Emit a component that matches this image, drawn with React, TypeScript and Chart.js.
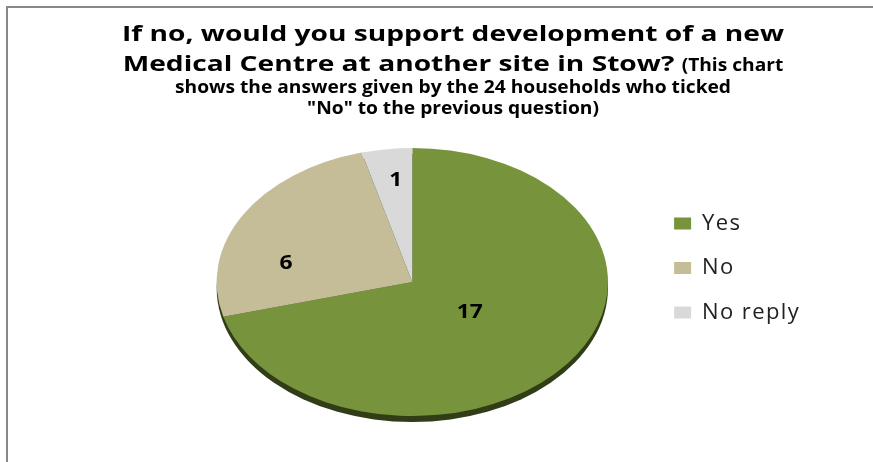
import React, { useEffect, useRef } from 'react';
import { Chart, registerables } from 'chart.js';

Chart.register(...registerables);

// ---- data ----
const categories = ['Yes', 'No', 'No reply'];
const answerCounts = [17, 6, 1];
const sliceColors = ['#77933C', '#C4BD97', '#D9D9D9'];

const titleBig1 = 'If no, would you support development of a new';
const titleBig2 = 'Medical Centre at another site in Stow? ';
const titleSmall2 = '(This chart';
const titleSmall3 = 'shows the answers given by the 24 households who ticked';
const titleSmall4 = '"No" to the previous question)';

// ---- style ----
const FONT = '"Open Sans", "Noto Sans", sans-serif';
const BIG_FONT = `bold 21px ${FONT}`;
const SMALL_FONT = `bold 17px ${FONT}`;
const TITLE_CENTER_X = 453;
const TITLE_LINE1_WIDTH = 662;
const TITLE_LINE3_WIDTH = 556;
const TITLE_BASELINES = [41, 71, 93, 114];
const PIE_STRETCH = 1.46;
const PIE_DEPTH = 6;
const SHADOW_COLOR = '#303D17';
const LABEL_RADIUS = [0.37, 0.66, 0.76];
const LABEL_ANGLE_OFFSET = [0, -0.31, 0.02];
const LEGEND_SHIFT = -14;
const LEGEND_EXTRA_WIDTH = 40;
const LEGEND_LETTER_SPACING = '1.4px';

let bigStretch = 1.2;
let smallStretch = 1.2;

type Seg = { t: string; f: string; s: () => number };

function drawSegments(ctx: CanvasRenderingContext2D, segs: Seg[], baseline: number) {
  let total = 0;
  const widths = segs.map((seg) => {
    ctx.font = seg.f;
    const w = ctx.measureText(seg.t).width * seg.s();
    total += w;
    return w;
  });
  let x = TITLE_CENTER_X - total / 2;
  segs.forEach((seg, i) => {
    ctx.save();
    ctx.font = seg.f;
    ctx.translate(x, baseline);
    ctx.scale(seg.s(), 1);
    ctx.fillText(seg.t, 0, 0);
    ctx.restore();
    x += widths[i];
  });
}

const frameAndTitle = {
  id: 'frameAndTitle',
  beforeDraw(chart: any) {
    const ctx = chart.ctx as CanvasRenderingContext2D;
    ctx.save();
    ctx.fillStyle = '#ffffff';
    ctx.fillRect(0, 0, chart.width, chart.height);
    ctx.strokeStyle = '#888888';
    ctx.lineWidth = 2;
    ctx.strokeRect(7, 7, chart.width + 20, chart.height + 20);
    ctx.restore();
    // wider letter spacing for the legend text, which is drawn next
    (ctx as any).letterSpacing = LEGEND_LETTER_SPACING;
  },
  afterDraw(chart: any) {
    const ctx = chart.ctx as CanvasRenderingContext2D;
    ctx.save();
    ctx.fillStyle = '#000000';
    ctx.textBaseline = 'alphabetic';
    ctx.textAlign = 'left';
    ctx.font = BIG_FONT;
    bigStretch = TITLE_LINE1_WIDTH / ctx.measureText(titleBig1).width;
    ctx.font = SMALL_FONT;
    smallStretch = TITLE_LINE3_WIDTH / ctx.measureText(titleSmall3).width;
    const big = () => bigStretch;
    const small = () => smallStretch;
    drawSegments(ctx, [{ t: titleBig1, f: BIG_FONT, s: big }], TITLE_BASELINES[0]);
    drawSegments(
      ctx,
      [
        { t: titleBig2, f: BIG_FONT, s: big },
        { t: titleSmall2, f: SMALL_FONT, s: small },
      ],
      TITLE_BASELINES[1]
    );
    drawSegments(ctx, [{ t: titleSmall3, f: SMALL_FONT, s: small }], TITLE_BASELINES[2]);
    drawSegments(ctx, [{ t: titleSmall4, f: SMALL_FONT, s: small }], TITLE_BASELINES[3]);
    ctx.restore();
  },
};

const pieTilt = {
  id: 'pieTilt',
  beforeDatasetsDraw(chart: any) {
    const ctx = chart.ctx as CanvasRenderingContext2D;
    (ctx as any).letterSpacing = '0px';
    const arc = chart.getDatasetMeta(0).data[0];
    const { x, y, outerRadius } = arc.getProps(['x', 'y', 'outerRadius'], true);
    ctx.save();
    ctx.fillStyle = SHADOW_COLOR;
    ctx.beginPath();
    ctx.ellipse(x, y + PIE_DEPTH, outerRadius * PIE_STRETCH, outerRadius, 0, 0, Math.PI * 2);
    ctx.fill();
    ctx.restore();
    ctx.save();
    ctx.translate(x, y);
    ctx.scale(PIE_STRETCH, 1);
    ctx.translate(-x, -y);
  },
  afterDatasetsDraw(chart: any) {
    const ctx = chart.ctx as CanvasRenderingContext2D;
    ctx.restore();
    const meta = chart.getDatasetMeta(0);
    ctx.save();
    ctx.fillStyle = '#000000';
    ctx.font = `bold 19px ${FONT}`;
    ctx.textAlign = 'center';
    ctx.textBaseline = 'middle';
    meta.data.forEach((el: any, i: number) => {
      const { x, y, startAngle, endAngle, outerRadius } = el.getProps(
        ['x', 'y', 'startAngle', 'endAngle', 'outerRadius'],
        true
      );
      const mid = (startAngle + endAngle) / 2 + LABEL_ANGLE_OFFSET[i];
      const r = outerRadius * LABEL_RADIUS[i];
      const px = x + Math.cos(mid) * r * PIE_STRETCH;
      const py = y + Math.sin(mid) * r;
      ctx.save();
      ctx.translate(px, py);
      ctx.scale(bigStretch, 1);
      ctx.fillText(String(chart.data.datasets[0].data[i]), 0, 0);
      ctx.restore();
    });
    ctx.restore();
  },
};

const legendShift = {
  id: 'legendShift',
  afterLayout(chart: any) {
    if (chart.legend) {
      chart.legend.top += LEGEND_SHIFT;
      chart.legend.bottom += LEGEND_SHIFT;
      chart.legend.right += LEGEND_EXTRA_WIDTH;
      chart.legend.width += LEGEND_EXTRA_WIDTH;
    }
  },
};

export default function App() {
  const ref = useRef<HTMLCanvasElement>(null);
  useEffect(() => {
    if (!ref.current) return;
    const chart = new Chart(ref.current, {
      type: 'pie',
      data: {
        labels: categories,
        datasets: [
          {
            data: answerCounts,
            backgroundColor: sliceColors,
            borderWidth: 0,
            clip: false as any,
          },
        ],
      },
      options: {
        animation: false,
        responsive: false,
        events: [],
        layout: { padding: { top: 148, bottom: 46, left: 173, right: 74 } },
        plugins: {
          title: { display: false },
          tooltip: { enabled: false },
          legend: {
            position: 'right',
            align: 'center',
            labels: {
              boxWidth: 17,
              boxHeight: 12,
              padding: 22.5,
              color: '#222222',
              font: { family: FONT, size: 22, weight: 'normal' },
            },
          },
        },
      },
      plugins: [frameAndTitle, pieTilt, legendShift],
    });
    return () => chart.destroy();
  }, []);
  return (
    <div style={{ position: 'fixed', left: 0, top: 0, width: 873, height: 462, background: '#fff' }}>
      <canvas ref={ref} width={873} height={462} style={{ display: 'block' }} />
    </div>
  );
}
